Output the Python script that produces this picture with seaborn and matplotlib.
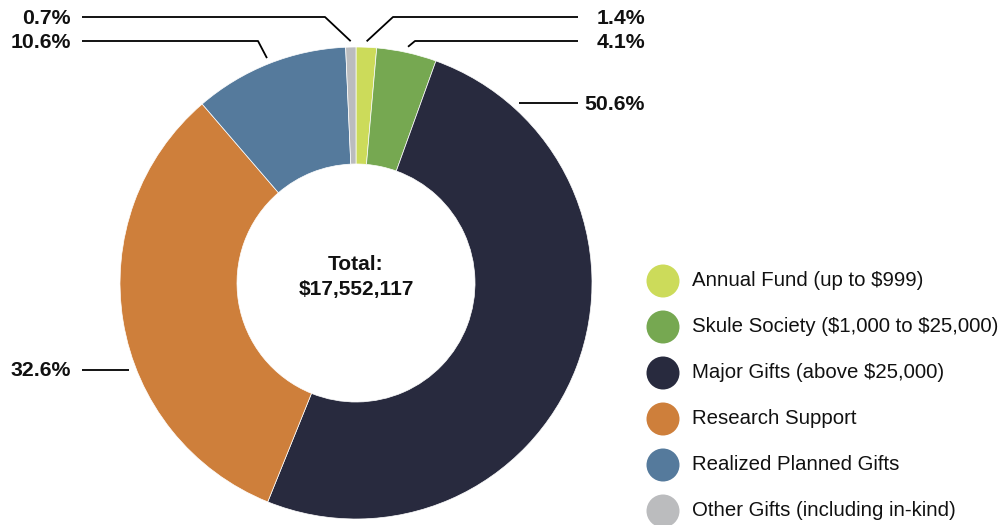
import numpy as np
import matplotlib
matplotlib.use("Agg")
import matplotlib.pyplot as plt
import seaborn as sns

# Gift categories and their share of the total (percent)
categories = [
    "Annual Fund (up to $999)",
    "Skule Society ($1,000 to $25,000)",
    "Major Gifts (above $25,000)",
    "Research Support",
    "Realized Planned Gifts",
    "Other Gifts (including in-kind)",
]
shares = [1.4, 4.1, 50.6, 32.6, 10.6, 0.7]
colors = ["#CCDB5A", "#76A851", "#282A3E", "#CE7F3B", "#557A9C", "#BBBCBE"]
total_text = "$17,552,117"

sns.set_theme(style="white")
plt.rcParams["font.family"] = ["Liberation Sans", "DejaVu Sans"]
plt.rcParams["text.parse_math"] = False

W, H = 1005, 525
fig = plt.figure(figsize=(W / 100, H / 100), dpi=100)
ax = fig.add_axes([0, 0, 1, 1])

# Donut geometry (pixel space, y measured upward)
cx, cy = 356, H - 283
R = 236
width = 117

wedges, _ = ax.pie(
    shares, colors=colors, startangle=90, counterclock=False,
    center=(cx, cy), radius=R, frame=True,
    wedgeprops=dict(width=width, edgecolor="white", linewidth=0.5),
)
ax.set_xlim(0, W)
ax.set_ylim(0, H)
ax.set_aspect("equal")
ax.axis("off")

# Centre caption
ax.text(cx, H - 265, "Total:", ha="center", va="center",
        fontsize=15, fontweight="bold", color="#111111")
ax.text(cx, H - 290, total_text, ha="center", va="center",
        fontsize=15, fontweight="bold", color="#111111")

# Leader-line layout per slice: side, label row (px from top), elbow x or None
layout = [
    ("right", 17, 393),
    ("right", 41, 415),
    ("right", 103, None),
    ("left", 370, None),
    ("left", 41, 258),
    ("left", 17, 325),
]
left_end, left_text = 82, 71
right_end, right_text = 578, 645
R_out = R * 1.025

cum = np.cumsum([0] + shares[:-1])
for share, start, (side, row, elbow) in zip(shares, cum, layout):
    ly = H - row
    if elbow is not None:
        mid = np.deg2rad((start + share / 2) / 100 * 360)
        px = cx + R_out * np.sin(mid)
        py = cy + R_out * np.cos(mid)
        xs = [px, elbow, left_end if side == "left" else right_end]
        ys = [py, ly, ly]
    else:
        dx = np.sqrt(max((R * 1.03) ** 2 - (ly - cy) ** 2, 0))
        px = cx - dx if side == "left" else cx + dx
        xs = [px, left_end if side == "left" else right_end]
        ys = [ly, ly]
    ax.plot(xs, ys, color="black", lw=1.3, solid_capstyle="butt")
    tx = left_text if side == "left" else right_text
    ax.text(tx, ly - 1, f"{share:.1f}%", ha="right", va="center",
            fontsize=15.3, fontweight="bold", color="#111111")

# Legend with round swatches
leg_x, leg_y0, leg_dy = 663, 281, 46
for i, (name, col) in enumerate(zip(categories, colors)):
    y = H - (leg_y0 + i * leg_dy)
    ax.scatter([leg_x], [y], s=33 ** 2 * 0.5184, color=col, edgecolors="none")
    ax.text(leg_x + 29, y, name, ha="left", va="center",
            fontsize=14.7, color="#111111")

fig.savefig("out.png", dpi=100)
